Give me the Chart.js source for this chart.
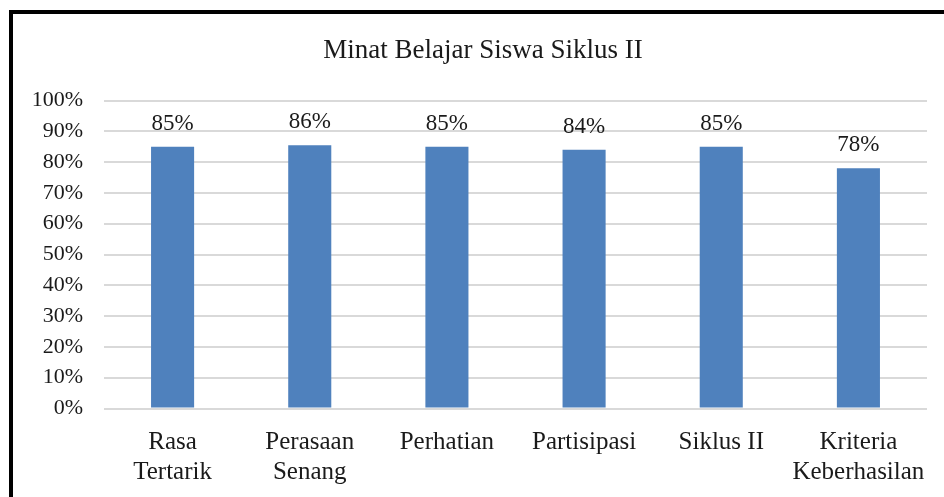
<!DOCTYPE html>
<html>
<head>
<meta charset="utf-8">
<script src="https://cdn.jsdelivr.net/npm/chart.js@4"></script>
<style>
	html, body { margin: 0; padding: 0; background: #fff; }
	.frame {
		position: absolute; left: 9px; top: 10px;
		width: 935px; height: 487px;
		border-left: 4px solid #000; border-top: 4px solid #000;
	}
	#chart { display: block; }
</style>
</head>
<body>
<div class="frame">
	<canvas id="chart" width="931" height="483"></canvas>
</div>
<script>
const categories = [['Rasa', 'Tertarik'], ['Perasaan', 'Senang'], 'Perhatian', 'Partisipasi', 'Siklus II', ['Kriteria', 'Keberhasilan']];
const values = [85, 85.5, 85, 84, 85, 78];
const yTicks = [0, 10, 20, 30, 40, 50, 60, 70, 80, 90, 100];

const biru = '#4F81BD';
const teks = '#1a1a1a';
const garis = '#d9d9d9';
const serif = "'Liberation Serif', 'DejaVu Serif', serif";

// label nilai di atas batang
const labelNilai = {
	id: 'labelNilai',
	afterLayout(chart) {
		// judul sedikit ke kanan, seperti aslinya
		if (chart.titleBlock) chart.titleBlock.left = 26;
	},
	afterDatasetsDraw(chart) {
		const ctx = chart.ctx;
		const meta = chart.getDatasetMeta(0);
		ctx.save();
		ctx.font = '23px ' + serif;
		ctx.fillStyle = teks;
		ctx.textAlign = 'center';
		ctx.textBaseline = 'alphabetic';
		meta.data.forEach((bar, i) => {
			ctx.fillText(Math.round(values[i]) + '%', bar.x, bar.y - 17);
		});
		ctx.restore();
	}
};

new Chart(document.getElementById('chart'), {
	type: 'bar',
	data: {
		labels: categories,
		datasets: [{
			data: values,
			backgroundColor: biru,
			barPercentage: 0.314,
			categoryPercentage: 1
		}]
	},
	options: {
		responsive: false,
		animation: false,
		layout: { padding: { left: 8, right: 17, top: 0, bottom: 0 } },
		plugins: {
			legend: { display: false },
			tooltip: { enabled: false },
			title: {
				display: true,
				text: 'Minat Belajar Siswa Siklus II',
				color: teks,
				font: { family: serif, size: 27, weight: 'normal', lineHeight: 1.2 },
				padding: { top: 20.8, bottom: 33.3 }
			}
		},
		scales: {
			x: {
				grid: { display: false },
				border: { display: false },
				ticks: {
					color: teks,
					padding: 11,
					maxRotation: 0,
					autoSkip: false,
					font: { family: serif, size: 25, lineHeight: 1.2 }
				},
				afterFit(scale) { scale.height = 88.5; }
			},
			y: {
				min: 0,
				max: 100,
				afterBuildTicks(scale) { scale.ticks = yTicks.map(v => ({ value: v })); },
				grid: { color: garis, lineWidth: 2, drawTicks: false },
				border: { display: false },
				ticks: {
					color: teks,
					padding: 21,
					font: { family: serif, size: 22 },
					callback: v => v + '%'
				},
				afterFit(scale) { scale.width = 83; }
			}
		}
	},
	plugins: [labelNilai]
});
</script>
</body>
</html>
